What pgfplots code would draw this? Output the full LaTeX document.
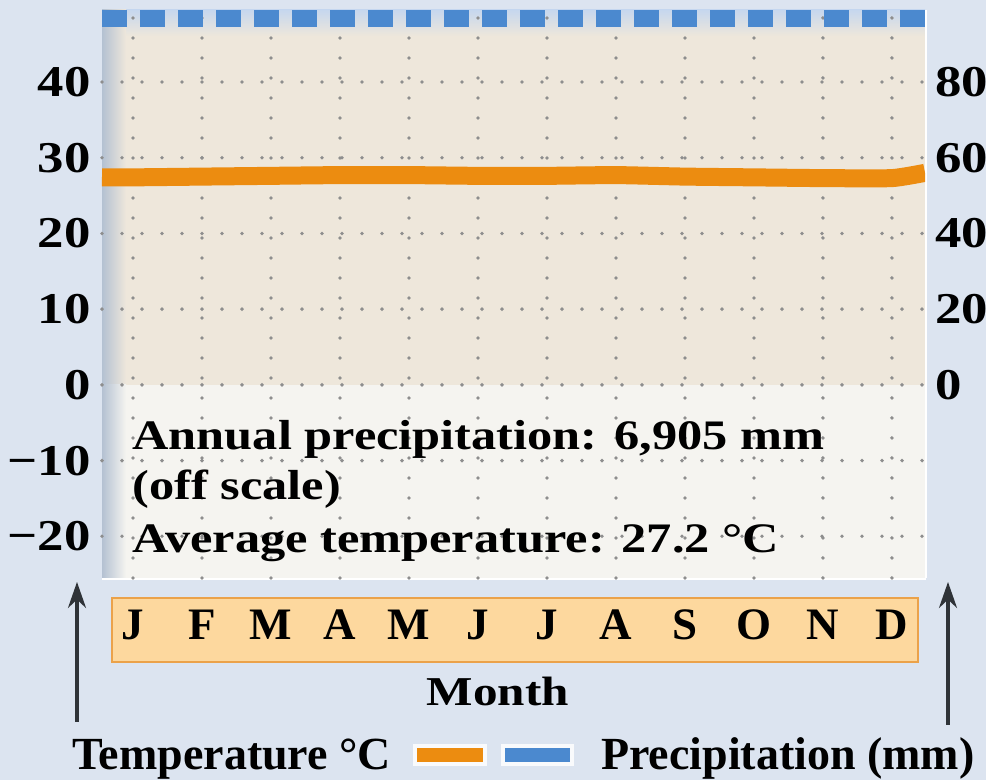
\documentclass[border=0pt]{standalone}
\usepackage{fontspec}
\setmainfont{Liberation Serif}
\newfontfamily\wide{Liberation Serif}[FakeStretch=1.2]
\usepackage{pgfplots}
\pgfplotsset{compat=1.18}
\usetikzlibrary{arrows.meta}
\definecolor{pagebg}{HTML}{DCE4F0}
\definecolor{upperbg}{HTML}{EEE7DB}
\definecolor{lowerbg}{HTML}{F5F4F0}
\definecolor{shadow}{HTML}{B4C1D2}
\definecolor{topband}{HTML}{C6D7EE}
\definecolor{tempc}{HTML}{EC8C10}
\definecolor{precc}{HTML}{4B89CF}
\definecolor{boxfill}{HTML}{FDD89E}
\definecolor{boxline}{HTML}{EBA24A}
\definecolor{arrowc}{HTML}{2F3338}
\definecolor{gridc}{HTML}{8E8E8E}
\begin{document}
\begin{tikzpicture}[x=1pt,y=1pt]
\path[use as bounding box] (0,0) rectangle (493,390);
\fill[pagebg] (0,0) rectangle (493,390);
% panel backgrounds
\fill[upperbg] (51,197.5) rectangle (462.5,385);
\fill[lowerbg] (51,101) rectangle (462.5,197.5);
\shade[top color=topband, bottom color=upperbg] (51,372) rectangle (462.5,385);
\shade[left color=shadow, right color=upperbg] (51,197.5) rectangle (63,385);
\shade[left color=shadow, right color=lowerbg] (51,101) rectangle (63,197.5);
\draw[white, line width=1.2pt] (463,101) -- (463,385);
\draw[white, line width=1.2pt] (51,100.4) -- (463,100.4);
% month box
\fill[boxfill, draw=boxline, line width=1.2pt] (56,59) rectangle (459,91);

\begin{axis}[
  at={(51pt,101pt)}, anchor=south west, scale only axis,
  width=411.5pt, height=284pt,
  xmin=-0.45, xmax=11.48, ymin=-25.5, ymax=49.5,
  xtick={0,1,2,3,4,5,6,7,8,9,10,11},
  xticklabels={J,F,M,A,M,J,J,A,S,O,N,D},
  ytick={-20,-10,0,10,20,30,40},
  yticklabels={−20,−10,0,10,20,30,40},
  axis line style={draw=none}, major tick length=0pt,
  xmajorgrids, ymajorgrids,
  grid style={gridc, line width=1.9pt, line cap=round, dash pattern=on 0pt off 10pt},
  xticklabel style={anchor=base, inner sep=0pt, yshift=-31pt,
    font=\fontsize{22.5}{24}\selectfont\bfseries},
  yticklabel style={anchor=east, inner sep=0pt, xshift=-5.5pt,
    font=\fontsize{22}{24}\selectfont\wide\bfseries},
]
\addplot[tempc, line width=9pt, line join=round, smooth, tension=0.3] coordinates {
  (-0.45,27.4) (0,27.4) (1,27.5) (2,27.6) (3,27.7) (4,27.7) (5,27.6)
  (6,27.6) (7,27.7) (8,27.5) (9,27.4) (10,27.3) (11,27.3) (11.48,28.0)};
\end{axis}

\begin{axis}[
  at={(51pt,101pt)}, anchor=south west, scale only axis,
  width=411.5pt, height=284pt,
  xmin=-0.45, xmax=11.48, ymin=-51, ymax=99,
  axis y line*=right, hide x axis,
  ytick={0,20,40,60,80},
  yticklabels={0,20,40,60,80},
  axis line style={draw=none}, major tick length=0pt,
  yticklabel style={anchor=west, inner sep=0pt, xshift=5pt,
    font=\fontsize{22}{24}\selectfont\wide\bfseries},
]
\addplot[precc, line width=8.5pt, dash pattern=on 12.5pt off 6.5pt] coordinates {
  (-0.45,96.8) (0,96.8) (1,96.8) (2,96.8) (3,96.8) (4,96.8) (5,96.8)
  (6,96.8) (7,96.8) (8,96.8) (9,96.8) (10,96.8) (11,96.8) (11.48,96.8)};
\end{axis}

% annotations
\begin{scope}[every node/.style={inner sep=0pt, anchor=base west, font=\fontsize{21}{23}\selectfont\wide\bfseries}]
\node at (66,165) {Annual precipitation: 6,905 mm};
\node at (66,140) {(off scale)};
\node at (66,113.5) {Average temperature: 27.2 °C};
\end{scope}

\node[inner sep=0pt, anchor=base, font=\fontsize{20.5}{22}\selectfont\wide\bfseries] at (249,37) {Month};

% arrows
\draw[arrowc, line width=1.6pt, -{Stealth[length=13pt, width=9pt]}] (38.5,29) -- (38.5,99);
\draw[arrowc, line width=1.6pt, -{Stealth[length=13pt, width=9pt]}] (474,27.5) -- (474,99);

% legend
\node[inner sep=0pt, anchor=base west, font=\fontsize{23}{25}\selectfont\bfseries] at (36,5) {Temperature °C};
\fill[white, opacity=0.85] (206.5,7) rectangle (243.5,18);
\fill[tempc] (208.5,9) rectangle (241.5,16);
\fill[white, opacity=0.85] (250.5,7) rectangle (287,18);
\fill[precc] (252.5,9) rectangle (285,16);
\node[inner sep=0pt, anchor=base east, font=\fontsize{23}{25}\selectfont\bfseries] at (487.5,5) {Precipitation (mm)};
\end{tikzpicture}
\end{document}
